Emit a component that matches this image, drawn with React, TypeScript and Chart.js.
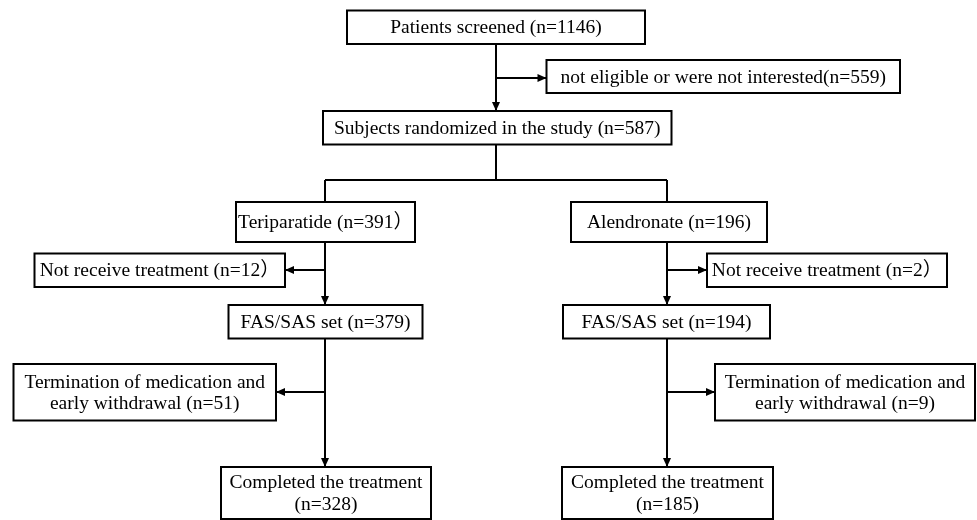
import React, { useEffect, useRef } from "react";
import { Chart, registerables } from "chart.js";

Chart.register(...registerables);

// Flowchart nodes (boxes) in image coordinates
const nodeLabels: string[][] = [
  ["Patients screened (n=1146)"],
  ["not eligible or were not interested(n=559)"],
  ["Subjects randomized in the study (n=587)"],
  ["Teriparatide (n=391）"],
  ["Alendronate (n=196)"],
  ["Not receive treatment (n=12）"],
  ["Not receive treatment (n=2）"],
  ["FAS/SAS set (n=379)"],
  ["FAS/SAS set (n=194)"],
  ["Termination of medication and", "early withdrawal (n=51)"],
  ["Termination of medication and", "early withdrawal (n=9)"],
  ["Completed the treatment", "(n=328)"],
  ["Completed the treatment", "(n=185)"],
];
const nodeLeft = [347, 546.5, 323, 236, 571, 34.5, 707, 228.5, 563, 13.5, 715, 221, 562];
const nodeRight = [645, 900, 671.5, 415, 767, 285, 947, 422.5, 770, 276, 975, 431, 773];
const nodeTop = [10.5, 60, 111, 202, 202, 253.5, 253.5, 305, 305, 364, 364, 467, 467];
const nodeBottom = [44, 93, 144.5, 242, 242, 287, 287, 338.5, 338.5, 420.5, 420.5, 519, 519];

// Connectors
const linkX1 = [496, 496, 496, 325, 325, 667, 325, 325, 667, 667, 325, 325, 667, 667];
const linkY1 = [44, 78, 144.5, 180, 180, 180, 242, 270, 242, 270, 338.5, 392, 338.5, 392];
const linkX2 = [496, 546.5, 496, 667, 325, 667, 325, 285, 667, 707, 325, 276, 667, 715];
const linkY2 = [111, 78, 180, 180, 202, 202, 305, 270, 305, 270, 467, 392, 467, 392];
const linkArrow = [true, true, false, false, false, false, true, true, true, true, true, true, true, true];

export default function App() {
  const ref = useRef<HTMLCanvasElement | null>(null);

  useEffect(() => {
    if (!ref.current) return;
    const datasets: any[] = [];
    nodeLabels.forEach((_, i) => {
      datasets.push({
        type: "line",
        data: [
          { x: nodeLeft[i], y: nodeTop[i] },
          { x: nodeRight[i], y: nodeTop[i] },
          { x: nodeRight[i], y: nodeBottom[i] },
          { x: nodeLeft[i], y: nodeBottom[i] },
          { x: nodeLeft[i], y: nodeTop[i] },
        ],
        borderColor: "#000",
        borderWidth: 2,
        borderJoinStyle: "miter",
        borderCapStyle: "square",
        pointRadius: 0,
        fill: false,
        tension: 0,
        clip: false,
      });
    });
    linkX1.forEach((_, i) => {
      datasets.push({
        type: "line",
        data: [
          { x: linkX1[i], y: linkY1[i] },
          { x: linkX2[i], y: linkY2[i] },
        ],
        borderColor: "#000",
        borderWidth: 2,
        borderCapStyle: "butt",
        pointRadius: 0,
        fill: false,
        clip: false,
      });
    });

    const flowPlugin = {
      id: "flow",
      afterDatasetsDraw(chart: any) {
        const ctx = chart.ctx;
        const xs = chart.scales.x;
        const ys = chart.scales.y;
        ctx.save();
        // arrowheads
        ctx.fillStyle = "#000";
        linkX1.forEach((_, i) => {
          if (!linkArrow[i]) return;
          const x1 = xs.getPixelForValue(linkX1[i]);
          const y1 = ys.getPixelForValue(linkY1[i]);
          const x2 = xs.getPixelForValue(linkX2[i]);
          const y2 = ys.getPixelForValue(linkY2[i]);
          const a = Math.atan2(y2 - y1, x2 - x1);
          const len = 9;
          const half = 4;
          ctx.beginPath();
          ctx.moveTo(x2, y2);
          ctx.lineTo(x2 - len * Math.cos(a) + half * Math.sin(a), y2 - len * Math.sin(a) - half * Math.cos(a));
          ctx.lineTo(x2 - len * Math.cos(a) - half * Math.sin(a), y2 - len * Math.sin(a) + half * Math.cos(a));
          ctx.closePath();
          ctx.fill();
        });
        // labels
        ctx.font = '19.5px "Liberation Serif", "Noto Sans CJK SC", serif';
        ctx.textAlign = "center";
        ctx.textBaseline = "middle";
        ctx.fillStyle = "#000";
        nodeLabels.forEach((lines, i) => {
          const cx = (xs.getPixelForValue(nodeLeft[i]) + xs.getPixelForValue(nodeRight[i])) / 2;
          const cy = (ys.getPixelForValue(nodeTop[i]) + ys.getPixelForValue(nodeBottom[i])) / 2;
          const lh = 21.6;
          lines.forEach((t, j) => {
            ctx.fillText(t, cx, cy + (j - (lines.length - 1) / 2) * lh + 1);
          });
        });
        ctx.restore();
      },
    };

    const chart = new Chart(ref.current, {
      type: "line",
      data: { datasets },
      options: {
        animation: false,
        responsive: false,
        maintainAspectRatio: false,
        layout: { padding: 0 },
        plugins: { legend: { display: false }, tooltip: { enabled: false }, title: { display: false } },
        events: [],
        scales: {
          x: { type: "linear", min: 0, max: 977, display: false },
          y: { type: "linear", min: 0, max: 520, reverse: true, display: false },
        },
      },
      plugins: [flowPlugin],
    });
    return () => chart.destroy();
  }, []);

  return (
    <div style={{ position: "absolute", left: 0, top: 0, width: 977, height: 520, background: "#fff" }}>
      <canvas ref={ref} width={977} height={520} style={{ display: "block", width: 977, height: 520 }} />
    </div>
  );
}
